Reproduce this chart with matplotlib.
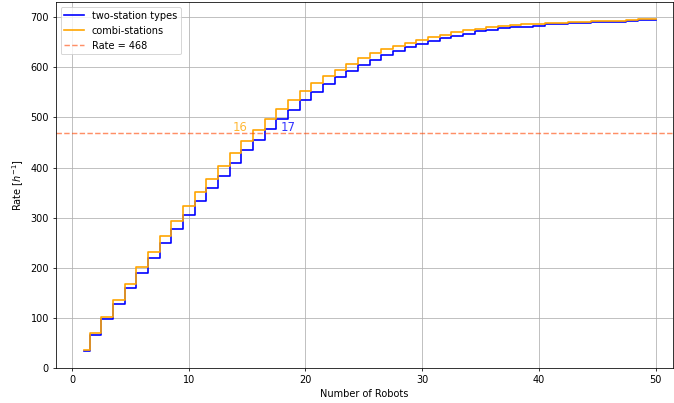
import numpy as np
import matplotlib
matplotlib.use("Agg")
import matplotlib.pyplot as plt

# number of robots and throughput
robots = list(range(1, 51))
two_station = [33, 66, 98, 128, 160, 190, 220, 249, 277, 306,
               333, 360, 384, 409, 434, 455, 477, 497, 515, 535,
               551, 567, 580, 592, 605, 615, 625, 633, 640, 647,
               652, 658, 663, 667, 672, 675, 678, 680, 681, 683,
               686, 686, 688, 688, 690, 690, 690, 693, 694, 695]
combi = [35, 70, 102, 136, 168, 202, 232, 264, 294, 323,
         351, 377, 403, 429, 453, 475, 497, 517, 535, 552,
         568, 583, 595, 607, 618, 628, 636, 643, 649, 655,
         660, 665, 670, 674, 677, 681, 683, 685, 686, 687,
         689, 689, 691, 691, 693, 693, 693, 695, 696, 696]
target_rate = 468
n_two = 17
n_combi = 16

# the reference looks like a default-styled figure saved at a low dpi
DPI = 70
fig = plt.figure(figsize=(674 / DPI, 403 / DPI), dpi=DPI)
ax = fig.add_axes([0.0826, 0.0868, 0.916, 0.908])

ax.step(robots, two_station, where='mid', color='blue', linewidth=1.7, label='two-station types')
ax.step(robots, combi, where='mid', color='orange', linewidth=1.7, label='combi-stations')
ax.axhline(target_rate, color='orangered', alpha=0.6, linestyle='--',
           label='Rate = %d' % target_rate)

# robots needed to reach the target rate
ax.text(n_combi - 2.2, target_rate + 5, str(n_combi), color='orange', alpha=0.8, fontsize=12)
ax.text(n_two + 0.9, target_rate + 5, str(n_two), color='blue', alpha=0.8, fontsize=12)

ax.set_xlim(-1.4, 51.5)
ax.set_ylim(0, 730)
ax.set_xticks([0, 10, 20, 30, 40, 50])
ax.set_yticks(range(0, 701, 100))
ax.grid(True)
ax.set_xlabel('Number of Robots')
ax.set_ylabel('Rate [$h^{-1}$]')
ax.legend(loc='upper left')

fig.savefig('out.png', dpi=DPI)
